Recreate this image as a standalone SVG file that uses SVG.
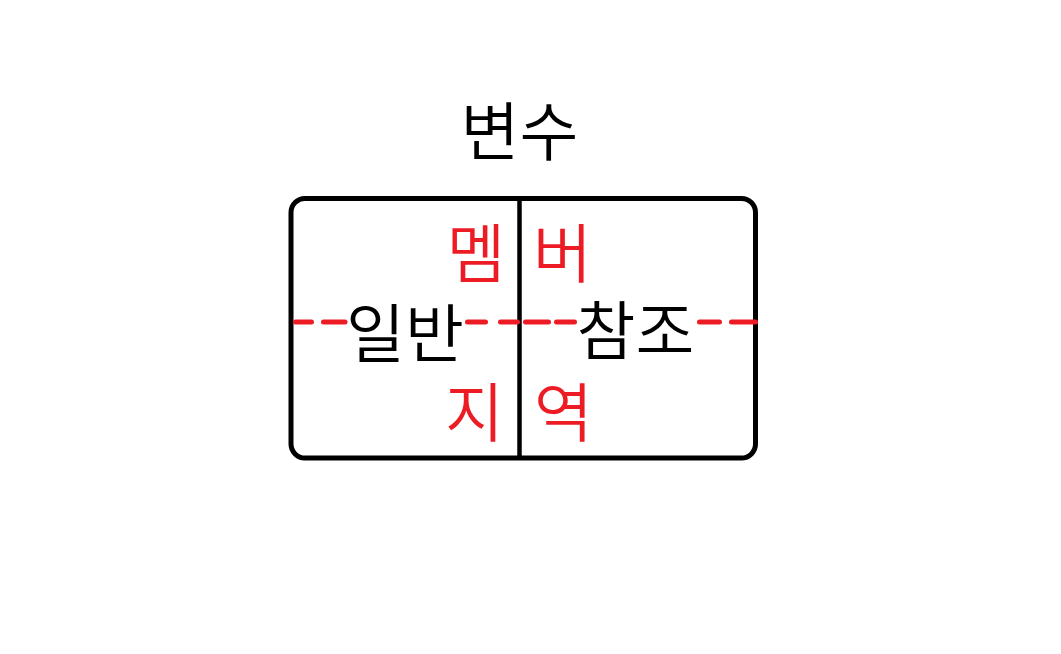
<svg xmlns="http://www.w3.org/2000/svg" width="1061" height="654" viewBox="0 0 1061 654">
<style>
.t{font-family:"Noto Sans CJK KR","Noto Sans",sans-serif;font-size:64px;font-weight:350;text-anchor:middle}
.k{fill:#000}
.r{fill:#ED1C24}
.dash{stroke:#ED1C24;stroke-width:5;stroke-linecap:round;fill:none}
</style>
<rect width="1061" height="654" fill="#fff"/>
<g id="title"><text class="t k" x="519.5" y="155">변수</text></g>
<g id="box">
<rect x="291" y="198.5" width="464.5" height="259.5" rx="14" fill="none" stroke="#000" stroke-width="5"/>
<line x1="519.5" y1="198.5" x2="519.5" y2="458" stroke="#000" stroke-width="4.5"/>
</g>
<g id="connectors">
<path class="dash" d="M295.5,322H311.5M323.5,322H345M467.5,322H485.5M500.5,322H517.5M525.5,322H548.5M556.5,322H574.5M699.5,322H719.5M731.5,322H755.5"/>
</g>
<g id="member"><text class="t r" x="476" y="277">멤</text><text class="t r" x="562.5" y="277">버</text></g>
<g id="general"><text class="t k" x="405" y="357">일반</text></g>
<g id="reference"><text class="t k" x="635.5" y="354">참조</text></g>
<g id="region"><text class="t r" x="474.5" y="436">지</text><text class="t r" x="563.5" y="436">역</text></g>
</svg>
